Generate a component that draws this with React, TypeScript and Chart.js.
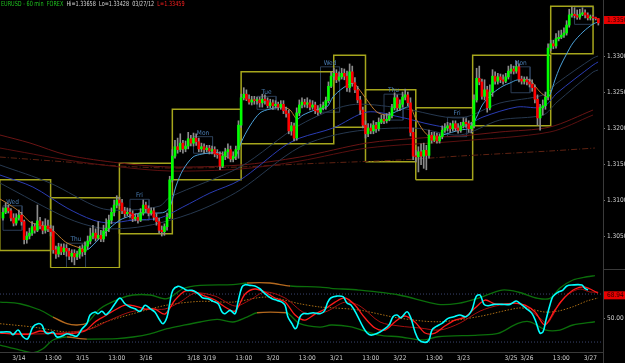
import React, { useEffect, useRef } from "react";
import { Chart, registerables } from "chart.js";
Chart.register(...registerables);

// ---------- DATA ----------
// prices are stored in pips above BASE (1.3000)
const BASE = 1.3;
const PIP = 0.0001;
const FIRST_OPEN = 75;
const CLOSE = [
  83, 89, 85, 75, 68, 75, 79, 70, 45, 50,
  54, 63, 58, 71, 64, 58, 64, 60, 56, 31,
  25, 35, 28, 33, 29, 22, 26, 21, 25, 32,
  28, 36, 43, 50, 54, 47, 51, 46, 57, 61,
  72, 83, 93, 100, 96, 85, 81, 83, 81, 74,
  76, 72, 82, 93, 88, 82, 85, 76, 70, 58,
  56, 63, 76, 128, 161, 174, 170, 179, 171, 175,
  185, 179, 186, 181, 171, 174, 170, 172, 168, 170,
  164, 163, 147, 161, 167, 170, 157, 161, 170, 204,
  242, 247, 240, 236, 239, 238, 239, 235, 240, 238,
  231, 235, 231, 233, 229, 233, 224, 220, 196, 203,
  186, 221, 232, 236, 233, 235, 229, 232, 224, 222,
  228, 231, 238, 258, 272, 276, 267, 271, 276, 272,
  256, 278, 263, 253, 239, 225, 204, 192, 200, 196,
  204, 199, 208, 212, 210, 212, 217, 228, 242, 228,
  233, 243, 246, 235, 194, 161, 160, 167, 161, 169,
  162, 190, 183, 189, 182, 188, 197, 200, 203, 199,
  206, 200, 197, 203, 208, 206, 199, 203, 239, 269,
  264, 244, 253, 228, 250, 272, 265, 271, 267, 265,
  271, 279, 282, 279, 285, 268, 265, 267, 264, 261,
  256, 240, 214, 228, 231, 243, 311, 317, 314, 324,
  326, 329, 332, 343, 357, 358, 356, 354, 358, 360,
  357, 353, 354, 353, 352, 346,
];
const HIGH = [
  89, 96, 93, 88, 81, 81, 86, 83, 72, 56,
  61, 70, 67, 93, 76, 70, 74, 72, 65, 64,
  36, 40, 39, 39, 38, 33, 31, 31, 29, 36,
  38, 42, 50, 61, 65, 60, 70, 58, 65, 74,
  79, 89, 100, 106, 104, 101, 90, 89, 88, 85,
  81, 81, 88, 100, 97, 92, 89, 89, 81, 75,
  64, 67, 82, 133, 170, 183, 186, 192, 183, 182,
  194, 190, 193, 192, 186, 179, 178, 176, 176, 175,
  174, 170, 167, 167, 172, 178, 175, 167, 175, 210,
  247, 256, 253, 246, 244, 244, 243, 243, 247, 246,
  242, 240, 239, 238, 236, 238, 238, 229, 225, 208,
  207, 228, 239, 242, 240, 242, 239, 238, 236, 231,
  233, 236, 243, 264, 278, 283, 281, 278, 283, 282,
  279, 289, 286, 270, 258, 244, 229, 210, 206, 206,
  210, 208, 214, 218, 218, 220, 222, 233, 249, 246,
  239, 250, 254, 250, 242, 200, 169, 174, 178, 179,
  176, 197, 194, 194, 193, 192, 203, 206, 208, 207,
  210, 210, 206, 208, 214, 213, 210, 208, 246, 283,
  286, 268, 267, 258, 260, 281, 278, 276, 275, 274,
  276, 286, 288, 286, 293, 289, 272, 271, 271, 268,
  267, 260, 246, 233, 239, 250, 317, 322, 322, 331,
  335, 336, 339, 349, 365, 368, 367, 364, 365, 367,
  364, 360, 357, 356, 354, 352,
];
const LOW = [
  72, 81, 82, 71, 64, 65, 72, 65, 39, 40,
  46, 51, 54, 56, 60, 53, 54, 56, 50, 26,
  19, 21, 24, 24, 22, 17, 14, 10, 17, 19,
  22, 24, 32, 39, 46, 43, 45, 42, 42, 50,
  56, 67, 78, 89, 92, 81, 76, 78, 76, 70,
  71, 68, 70, 79, 83, 78, 79, 72, 65, 54,
  50, 51, 58, 74, 125, 158, 165, 167, 165, 167,
  171, 175, 175, 176, 167, 167, 165, 167, 164, 164,
  160, 158, 142, 145, 156, 158, 153, 153, 156, 158,
  201, 239, 238, 233, 232, 233, 233, 229, 229, 233,
  228, 228, 226, 228, 225, 226, 220, 215, 192, 190,
  182, 183, 217, 228, 229, 228, 225, 226, 220, 218,
  220, 225, 226, 235, 256, 267, 263, 265, 268, 267,
  251, 250, 258, 249, 235, 219, 200, 186, 188, 192,
  192, 194, 196, 206, 206, 207, 210, 214, 225, 224,
  224, 229, 239, 231, 189, 156, 153, 139, 149, 144,
  142, 158, 179, 181, 179, 179, 185, 194, 196, 194,
  196, 196, 193, 194, 200, 201, 194, 193, 200, 236,
  260, 240, 239, 222, 225, 244, 261, 261, 263, 261,
  263, 268, 276, 275, 276, 264, 261, 261, 260, 257,
  251, 235, 204, 197, 218, 226, 239, 307, 310, 311,
  321, 324, 326, 329, 340, 354, 353, 351, 351, 356,
  353, 350, 350, 350, 350, 343,
];

// Yellow range boxes (bar index start/end, pips low/high)
const BOX_START = [-1.2, 18, 44, 64, 90, 125, 137, 156, 177.5, 207];
const BOX_END = [18, 44, 64, 90, 125, 137, 156, 177.5, 207, 223];
const BOX_LOW = [30, 6, 53, 128, 178, 201, 153, 128, 203, 303];
const BOX_HIGH = [128, 103, 151, 226, 278, 301, 253, 228, 301, 369];

// Session (Asian range) boxes
const SESS_START = [0, 24, 48, 72, 96, 120, 144, 168, 192, 216];
const SESS_END = [7.2, 31.2, 55.2, 79.2, 103.2, 127.2, 151.2, 175.2, 199.2, 223.2];
const SESS_LOW = [58, 6, 72, 165, 226, 222, 211, 188, 249, 344];
const SESS_HIGH = [92, 40, 101, 188, 244, 285, 247, 215, 285, 368];
const SESS_LABEL = ["Wed", "Thu", "Fri", "Mon", "Tue", "Wed", "Thu", "Fri", "Mon", ""];

// Moving averages: [bar index, pips]
const MA_FAST = [[-1.13,101.4],[2.65,93.1],[6.42,83.4],[10.2,69.5],[14,65.3],[17.8,61.1],[21.5,48.6],[24.2,40.3],[29.1,33.4],[31.7,30.6],[34.8,40.3],[37.8,51.4],[40.4,61.1],[44.2,72.2],[48,77.8],[51.8,82],[55.6,82],[59.3,82],[61.2,83.4],[63.1,90.3],[65.4,119.5],[68,141.7],[71.8,159.7],[75.2,163.9],[78.2,165.3],[82,165.3],[84.7,159.7],[86.9,157],[88.8,166.7],[89.9,179.2],[93.3,202.8],[97.1,220.9],[100.9,226.4],[105.8,229.2],[108.5,225],[111.1,212.5],[113.4,218.1],[117.9,225],[122.4,229.2],[124.7,243.1],[128.5,255.6],[132.3,262.5],[134.2,255.6],[137.6,238.9],[141.3,222.2],[145.1,218.1],[147.4,220.9],[150,225],[153.8,229.2],[155.7,215.3],[158.7,197.2],[161.4,187.5],[164,186.1],[166.3,190.3],[172.7,197.2],[176.5,200],[178.8,213.9],[181.4,233.4],[185.2,248.6],[189,258.4],[191.6,262.5],[194.3,266.7],[199.2,266.7],[201.1,258.4],[203,250],[205.6,243.1],[206.7,245.9],[208.6,266.7],[210.5,284.7],[212.8,301.4],[215.4,318.1],[219.2,333.4],[223,344.5],[224.9,347.2]];
const MA_NAVY = [[-1.13,134.7],[11.3,118.1],[24.2,88.9],[34,72.2],[40.4,68.1],[49.1,72.2],[59.3,75],[68,90.3],[78.2,109.7],[89.6,127.8],[105.8,173.6],[112.2,186.1],[124.7,200],[137.6,222.2],[150,215.3],[162.5,204.2],[172.7,200],[181.4,215.3],[194.3,229.2],[204.1,229.2],[209.4,248.6],[223,287.5],[224.9,291.7]];
const MA_SLATE_UP = [[-1.13,148.6],[17.8,123.6],[36.7,88.9],[48,86.1],[59.3,91.7],[63.1,104.2],[89.6,145.9],[112.2,204.2],[131.1,232],[150,227.8],[172.7,213.9],[187.8,234.7],[204.1,245.9],[209.4,262.5],[223,297.2],[224.9,300]];
const MA_SLATE_LO = [[-1.13,123.6],[24.2,75],[36.7,61.1],[48,61.1],[59.3,68.1],[74.5,86.1],[89.6,113.9],[112.2,173.6],[131.1,194.5],[155.3,200],[172.7,190.3],[187.8,211.1],[204.1,218.1],[209.4,236.1],[223,277.8],[224.9,280.6]];
const MA_RED_A = [[-1.13,190.3],[10.2,179.2],[24.2,162.5],[44.2,151.4],[63.1,145.9],[89.6,148.6],[112.2,159.7],[137.6,179.2],[157.6,186.1],[172.7,188.9],[187.8,194.5],[206.7,201.4],[223,225]];
const MA_RED_B = [[-1.13,172.2],[24.2,155.6],[44.2,145.9],[63.1,140.3],[89.6,143.1],[112.2,154.2],[137.6,172.2],[172.7,182],[206.7,194.5],[223,218.1]];
const MA_RED_C = [[-1.13,159.7],[24.2,152.8],[44.2,147.2],[63.1,144.5],[89.6,145.9],[112.2,150],[150,155.6],[172.7,161.1],[206.7,168.1],[223.7,172.2]];

// Oscillator panel: [bar index, value]
const OSC_CYAN = [[-1.1,38.3],[2.6,38.3],[3.8,36.1],[5.7,40],[7.6,34.2],[9.4,32.8],[11.3,42.5],[13.2,45.3],[14.7,44.2],[15.9,38.3],[17,36.9],[18.9,38.3],[20.4,34.2],[22.3,35],[24.2,36.9],[26.1,35.8],[28,35],[29.9,41.1],[31.7,45.3],[32.9,52.5],[34.8,55],[35.9,53.6],[37.4,55.6],[38.9,52.8],[40.4,55.8],[42.3,61.9],[44.2,66.7],[46.1,61.9],[48,59.2],[49.9,57.8],[51.8,55.6],[53.7,60.6],[55.6,57.8],[57.4,55],[59.3,48.1],[60.5,45.3],[62,50.8],[63.1,63.3],[64.2,73.3],[66.1,76.4],[68,75],[69.5,73.1],[71.4,73.1],[73.3,71.1],[74.5,68.9],[75.6,66.7],[77.5,66.1],[79.4,63.9],[81.3,61.9],[82.8,55],[83.9,53.6],[85.8,56.4],[87.7,53.6],[88.8,63.3],[90.3,75.8],[91.5,77.8],[93.3,77.2],[95.2,76.7],[97.1,74.4],[98.3,71.7],[99.8,68.9],[101.7,66.1],[103.6,64.7],[105.4,63.3],[106.6,60.6],[107.7,50.8],[109.2,45.3],[110.4,41.1],[111.1,42.5],[112.2,50.8],[113.4,53.6],[115.3,53.6],[117.2,54.4],[119.8,53.6],[121.5,56],[122.7,63],[124,66.9],[126.2,68.3],[128.5,67.8],[130,62.5],[131.5,60.8],[133.8,52.5],[136,42.8],[137.6,37.5],[139.1,35.8],[141.3,37.2],[143.6,40],[145.9,44.2],[147.4,51.1],[148.9,52.5],[150.4,50.3],[152.7,55.3],[154.2,49.7],[155.7,38.6],[157.2,31.7],[159.5,29.7],[161,31.7],[162.1,40],[163.6,42.8],[165.9,45.6],[168.2,49.7],[170.4,51.1],[172.7,52.5],[175,51.1],[177.2,56.7],[178.8,67.8],[180.3,69.2],[181.8,61.4],[183.3,60.3],[185.6,61.4],[188.6,61.4],[191.6,61.4],[193.9,64.2],[195.4,62.2],[197.7,58.1],[199.9,53.9],[201.4,46.9],[202.9,37.5],[204.1,38.6],[205.2,48.3],[206.7,60.8],[207.8,67.8],[209.7,71.4],[211.6,73.3],[213.1,76.7],[215,77.5],[218.8,77.5],[219.9,74.7],[221.1,73.3]];
const OSC_RED = [[-1.1,37.5],[4.5,36.7],[10.2,36.7],[14,39.2],[17.8,37.5],[21.5,36.7],[27.2,37.5],[31,39.2],[34.8,46.7],[38.5,51.7],[42.3,56.7],[46.1,60.8],[49.9,60],[53.7,57.5],[57.4,57.5],[61.2,53.3],[65,65],[68.8,72.5],[72.6,71.7],[76.3,68.3],[80.1,65],[83.9,59.2],[87.7,55.8],[91.5,70],[95.2,74.2],[99,71.7],[102.8,66.7],[106.6,63.3],[110.4,52.5],[114.1,48.3],[117.9,53.3],[121.7,57.5],[125.5,63.3],[129.3,66.7],[133,60.8],[136.8,50],[140.6,41.7],[144.4,40],[148.1,46.7],[151.9,51.7],[155.7,46.7],[159.5,37.5],[163.3,37.5],[167,43.3],[170.8,48.3],[174.6,50.8],[178.4,58.3],[182.2,65],[185.9,61.7],[189.7,61.7],[193.5,62.5],[197.3,60.8],[201.1,55],[204.8,44.2],[208.6,56.7],[212.4,67.5],[216.2,74.2],[220,75.8],[224.9,70.8]];
const OSC_DARKRED = [[-1.1,37.5],[10.2,36.7],[21.5,37.5],[32.9,40.8],[40.4,48.3],[48,55],[55.6,57.5],[61.2,57.5],[66.9,63.3],[72.6,70.8],[80.1,68.3],[87.7,60],[93.3,65],[99,71.7],[106.6,66.7],[114.1,54.2],[121.7,55],[129.3,63.3],[134.9,60],[142.5,46.7],[150,43.3],[157.6,41.7],[165.2,40],[172.7,45.8],[180.3,55.8],[187.8,60.8],[195.4,61.7],[202.9,50],[205.6,45.8],[207.9,52.5],[210.5,63.3],[214.3,70.8],[218.1,74.2],[221.8,71.7],[224.9,71.7]];
const OSC_MID = [[-1.1,45.3],[11.3,42.5],[24.2,38.3],[31.7,40],[36.7,45.3],[49.1,53.6],[62,60.8],[74.5,63.9],[86.9,63.3],[99.8,67.5],[112.2,61.9],[119.8,59.2],[124,58.6],[134.5,56.7],[149.7,50],[164.4,46.9],[179.5,51.1],[194.6,58.3],[199.2,57.5],[204.8,55],[209.8,55.8],[215.4,59.4],[220.7,64.2],[224.9,66.7]];
const OSC_BAND_UP = [[-1.1,63.3],[6.4,61.9],[14,56.7],[18.9,50.8],[24.2,45.3],[28,44.2],[31.7,45.8],[36.7,57.8],[44.2,66.1],[49.1,69.2],[55.6,69.2],[62,66.1],[68,74.4],[74.5,77.2],[86.9,77.8],[92.2,79.2],[100.9,79.2],[108.5,76.7],[119.8,75.8],[124,74.8],[134.5,73.3],[149.7,69.2],[164.4,61.4],[172,62.2],[179.5,66.4],[188.6,73.3],[194.6,71.7],[202.2,66.4],[206.7,66.4],[210.5,75],[215.4,81.7],[220.7,84.4],[223.7,85.3]];
const OSC_BAND_LO = [[-1.1,27.5],[6.4,23.3],[11.3,21.1],[15.1,24.4],[18.9,31.7],[24.2,34.2],[29.1,32.8],[31.7,32.5],[43.1,32.8],[49.1,34.2],[55.6,36.9],[62,41.1],[68,43.9],[74.5,46.7],[80.9,48.9],[86.9,46.7],[92.2,50.8],[96,54.4],[107.3,54.4],[108.5,52.5],[112.2,45.3],[119.8,42.5],[124,44.2],[131.1,42.8],[142.1,35.8],[149.7,34.4],[158.7,31.7],[164.4,34.4],[179.5,35.8],[187.1,37.2],[194.6,45.6],[199.2,46.9],[205.2,40],[210.5,40],[215.4,44.2],[223.7,46.9]];
const BAND_UP_ORANGE = [[15.9, 31.7], [92.2, 108.5]];
const BAND_LO_ORANGE = [[20.4, 31.7], [96, 107.3]];
const OSC_LEVELS = [70, 30];

// Axes
const X_MIN = -1.13;
const X_MAX = 226.76;
const PRICE_MIN = 1.30056;
const PRICE_MAX = 1.33778;
const PRICE_TICKS = [1.305, 1.31, 1.315, 1.32, 1.325, 1.33, 1.335];
const OSC_MIN = 21.7;
const OSC_MAX = 91.7;
const OSC_TICKS = [50];
const TICK_IDX = [6, 19, 30, 43, 54, 72, 78, 91, 102, 115, 126, 139, 150, 163, 174, 192, 198, 211, 222];
const TICK_LABELS = ["3/14", "13:00", "3/15", "13:00", "3/16", "3/18", "3/19", "13:00", "3/20", "13:00", "3/21", "13:00", "3/22", "13:00", "3/23", "3/25", "3/26", "13:00", "3/27"];

const PRICE_TAG = 1.335;
const OSC_TAG = 68.94;
const HEADER_PARTS: [string, string][] = [
  ["EURUSD - 60 min  FOREX", "#1fc21f"],
  ["Hi=1.33658", "#d8d8d8"],
  ["Lo=1.33428", "#d8d8d8"],
  ["03/27/12", "#d8d8d8"],
  ["L=1.33459", "#ff2020"],
];

// ---------- STYLE ----------
const FONT = "'Liberation Sans Narrow', 'DejaVu Sans Condensed', 'Liberation Sans', sans-serif";
const UP = "#00ff00";
const DOWN = "#ff0000";
const WICK = "#8c8c8c";
const AXIS_LINE = "#3a3a3a";
const TICK_TEXT = "#d0d0d0";

const toPrice = (p: number) => BASE + p * PIP;
const pts = (arr: number[][], conv = (v: number) => v) => arr.map(([x, y]) => ({ x, y: conv(y) }));
const inRanges = (x: number, ranges: number[][]) => ranges.some(([a, b]) => x >= a - 0.01 && x < b);

function lineDs(data: any[], color: string, width: number, order: number, extra: any = {}) {
  return {
    type: "line",
    data,
    borderColor: color,
    borderWidth: width,
    pointRadius: 0,
    fill: false,
    tension: 0.3,
    order,
    ...extra,
  };
}

const noPad = (s: any) => {
  s.paddingTop = 0;
  s.paddingBottom = 0;
  s.paddingLeft = 0;
  s.paddingRight = 0;
};

const headerAndTagsPlugin = {
  id: "headerTags",
  afterDatasetsDraw(chart: any) {
    const { ctx, scales } = chart;
    const sx = scales.x;
    const sy = scales.y;
    ctx.save();
    ctx.font = `6.5px ${FONT}`;
    ctx.fillStyle = "#4a7db3";
    ctx.textAlign = "center";
    ctx.textBaseline = "bottom";
    SESS_LABEL.forEach((lab, k) => {
      if (!lab) return;
      const cx = sx.getPixelForValue((SESS_START[k] + SESS_END[k]) / 2);
      const ty = sy.getPixelForValue(toPrice(SESS_HIGH[k]));
      ctx.fillText(lab, cx, ty - 0.5);
    });
    ctx.restore();
  },
  afterDraw(chart: any) {
    const { ctx, scales, chartArea } = chart;
    ctx.save();
    ctx.font = `7px ${FONT}`;
    ctx.textBaseline = "middle";
    ctx.textAlign = "left";
    ctx.save();
    ctx.translate(1, 0);
    ctx.scale(0.78, 1);
    let x = 0;
    HEADER_PARTS.forEach(([t, c]) => {
      ctx.fillStyle = c;
      ctx.fillText(t, x, 4.5);
      x += ctx.measureText(t).width + 4;
    });
    ctx.restore();
    const y = scales.y.getPixelForValue(PRICE_TAG);
    ctx.fillStyle = "#e80000";
    ctx.fillRect(chartArea.right + 1, y - 4, chart.width - chartArea.right - 1, 8);
    ctx.fillStyle = "#2a0000";
    ctx.font = `6.5px ${FONT}`;
    ctx.fillText(PRICE_TAG.toFixed(4), chartArea.right + 4, y + 0.5);
    ctx.restore();
  },
};

const oscTagPlugin = {
  id: "oscTag",
  afterDraw(chart: any) {
    const { ctx, scales, chartArea } = chart;
    ctx.save();
    const y = scales.y.getPixelForValue(OSC_TAG);
    ctx.fillStyle = "#e80000";
    ctx.fillRect(chartArea.right + 1, y - 4, chart.width - chartArea.right - 1, 8);
    ctx.fillStyle = "#2a0000";
    ctx.font = `6.5px ${FONT}`;
    ctx.textBaseline = "middle";
    ctx.fillText(OSC_TAG.toFixed(2), chartArea.right + 4, y + 0.5);
    ctx.strokeStyle = AXIS_LINE;
    ctx.lineWidth = 1;
    ctx.beginPath();
    ctx.moveTo(chartArea.right + 0.5, chartArea.bottom);
    ctx.lineTo(chartArea.right + 0.5, chart.height);
    ctx.moveTo(chartArea.right, chartArea.top + 1.5);
    ctx.lineTo(chart.width, chartArea.top + 1.5);
    ctx.stroke();
    ctx.restore();
  },
};

export default function App() {
  const topRef = useRef<HTMLCanvasElement>(null);
  const botRef = useRef<HTMLCanvasElement>(null);

  useEffect(() => {
    document.body.style.margin = "0";
    document.body.style.background = "#000";
    const opens = CLOSE.map((c, i) => (i === 0 ? FIRST_OPEN : CLOSE[i - 1]));
    const wicks = CLOSE.map((_, i) => ({ x: i, y: [toPrice(LOW[i]), toPrice(HIGH[i])] }));
    const bodies = CLOSE.map((c, i) => ({ x: i, y: [toPrice(opens[i]), toPrice(c)] }));
    const bodyColors = CLOSE.map((c, i) => (c >= opens[i] ? UP : DOWN));

    const rect = (s: number, e: number, lo: number, hi: number) => [
      { x: s, y: toPrice(lo) }, { x: s, y: toPrice(hi) }, { x: e, y: toPrice(hi) }, { x: e, y: toPrice(lo) }, { x: s, y: toPrice(lo) },
    ];
    const boxDs = BOX_START.map((s, k) =>
      lineDs(rect(s, BOX_END[k], BOX_LOW[k], BOX_HIGH[k]), "#a6a61c", 1.5, 6, { tension: 0 })
    );
    const sessDs = SESS_START.map((s, k) =>
      lineDs(rect(s, SESS_END[k], SESS_LOW[k], SESS_HIGH[k]), "#2b3d55", 1, 7, { tension: 0 })
    );

    const topChart = new Chart(topRef.current!, {
      type: "bar",
      data: {
        datasets: [
          { type: "bar", data: bodies, backgroundColor: bodyColors, barThickness: 2, grouped: false, minBarLength: 1, borderWidth: 0, order: 0 } as any,
          { type: "bar", data: wicks, backgroundColor: WICK, barThickness: 1, grouped: false, borderWidth: 0, order: 1 } as any,
          lineDs(pts(MA_FAST, toPrice), "#4aa0d8", 1, 2, {
            segment: { borderColor: (c: any) => (c.p1.parsed.y >= c.p0.parsed.y ? "#4aa0d8" : "#c07a2c") },
          }),
          lineDs(pts(MA_NAVY, toPrice), "#2a3cb4", 1, 3),
          lineDs(pts(MA_SLATE_UP, toPrice), "#26384f", 1, 3),
          lineDs(pts(MA_SLATE_LO, toPrice), "#26384f", 1, 3),
          lineDs(pts(MA_RED_A, toPrice), "#6a1414", 1, 4),
          lineDs(pts(MA_RED_B, toPrice), "#5a1010", 1, 4),
          lineDs(pts(MA_RED_C, toPrice), "#5e2212", 1, 4, { borderDash: [6, 2, 1, 2] }),
          ...boxDs,
          ...sessDs,
        ] as any,
      },
      options: {
        animation: false,
        responsive: false,
        devicePixelRatio: 1,
        events: [],
        layout: { padding: 0 },
        plugins: { legend: { display: false }, tooltip: { enabled: false } },
        scales: {
          x: { type: "linear", display: false, min: X_MIN, max: X_MAX, offset: false },
          y: {
            type: "linear",
            position: "right",
            min: PRICE_MIN,
            max: PRICE_MAX,
            afterFit: (s: any) => { s.width = 22; noPad(s); },
            afterBuildTicks: (a: any) => { a.ticks = PRICE_TICKS.map((v) => ({ value: v })); },
            grid: { drawOnChartArea: false, tickLength: 2, color: "#777" },
            border: { display: true, color: AXIS_LINE },
            ticks: { color: TICK_TEXT, font: { size: 6.5, family: FONT }, padding: 2, callback: (v: any) => Number(v).toFixed(4) },
          },
        },
      } as any,
      plugins: [headerAndTagsPlugin],
    });

    const botChart = new Chart(botRef.current!, {
      type: "line",
      data: {
        datasets: [
          lineDs(pts(OSC_CYAN), "#00ffff", 1.6, 0, { tension: 0.35 }),
          lineDs(pts(OSC_RED), "#ff1a1a", 1.3, 1),
          lineDs(pts(OSC_DARKRED), "#a41010", 1, 2),
          lineDs(pts(OSC_MID), "#a86c14", 1, 3, { borderDash: [1.5, 1.5] }),
          lineDs(pts(OSC_BAND_UP), "#0b6e0b", 1.3, 4, {
            segment: { borderColor: (c: any) => (inRanges(c.p0.parsed.x, BAND_UP_ORANGE) ? "#b4691e" : "#0b6e0b") },
          }),
          lineDs(pts(OSC_BAND_LO), "#0b6e0b", 1.3, 4, {
            segment: { borderColor: (c: any) => (inRanges(c.p0.parsed.x, BAND_LO_ORANGE) ? "#b4691e" : "#0b6e0b") },
          }),
          ...OSC_LEVELS.map((lv) =>
            lineDs([{ x: X_MIN, y: lv }, { x: X_MAX, y: lv }], "#3a4670", 1, 5, { borderDash: [1, 2], tension: 0 })
          ),
        ] as any,
      },
      options: {
        animation: false,
        responsive: false,
        devicePixelRatio: 1,
        events: [],
        layout: { padding: 0 },
        plugins: { legend: { display: false }, tooltip: { enabled: false } },
        scales: {
          x: {
            type: "linear",
            min: X_MIN,
            max: X_MAX,
            offset: false,
            afterFit: (s: any) => { s.height = 11; noPad(s); },
            afterBuildTicks: (a: any) => { a.ticks = TICK_IDX.map((v) => ({ value: v })); },
            grid: { display: false, drawTicks: false },
            border: { display: true, color: AXIS_LINE },
            ticks: {
              autoSkip: false,
              maxRotation: 0,
              padding: 2,
              color: TICK_TEXT,
              font: { size: 6.5, family: FONT },
              callback: (_v: any, i: number) => TICK_LABELS[i] ?? "",
            },
          },
          y: {
            type: "linear",
            position: "right",
            min: OSC_MIN,
            max: OSC_MAX,
            afterFit: (s: any) => { s.width = 22; noPad(s); },
            afterBuildTicks: (a: any) => { a.ticks = OSC_TICKS.map((v) => ({ value: v })); },
            grid: { drawOnChartArea: false, tickLength: 2, color: "#777" },
            border: { display: true, color: AXIS_LINE },
            ticks: { color: TICK_TEXT, font: { size: 6.5, family: FONT }, padding: 2, callback: (v: any) => Number(v).toFixed(2) },
          },
        },
      } as any,
      plugins: [oscTagPlugin],
    });

    return () => {
      topChart.destroy();
      botChart.destroy();
    };
  }, []);

  return (
    <div style={{ position: "fixed", left: 0, top: 0, width: 625, height: 363, background: "#000" }}>
      <canvas ref={topRef} width={625} height={268} style={{ display: "block" }} />
      <canvas ref={botRef} width={625} height={95} style={{ display: "block" }} />
    </div>
  );
}
